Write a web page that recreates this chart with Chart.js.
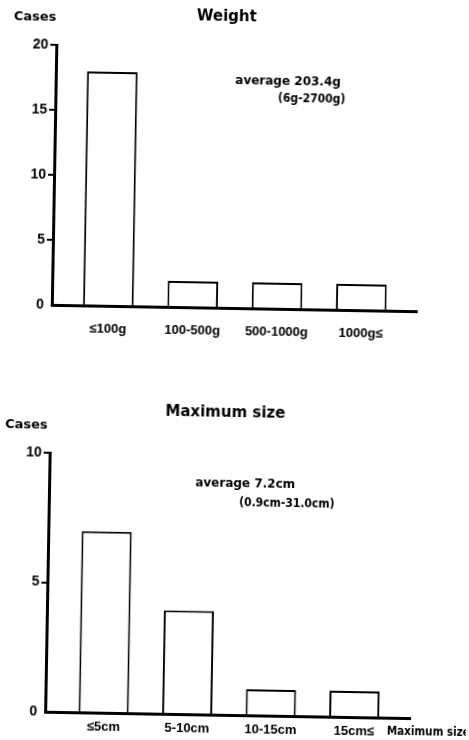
<!DOCTYPE html>
<html><head><meta charset="utf-8">
<script src="https://cdn.jsdelivr.net/npm/chart.js@4"></script>
<style>
html,body{margin:0;padding:0;background:#fff;overflow:hidden;width:469px;height:740px}
.wrap{position:absolute;left:0;width:469px;overflow:visible}
#w1{top:0;height:360px}
#w2{top:360px;height:380px}
canvas{display:block;transform:rotate(1deg);transform-origin:50% 50%}
</style></head><body>
<div class="wrap" id="w1"><canvas id="c1" width="469" height="360" style="width:469px;height:360px"></canvas></div>
<div class="wrap" id="w2"><canvas id="c2" width="469" height="380" style="width:469px;height:380px"></canvas></div>
<script>
// ---- data ----
const weightLabels = ['≤100g', '100-500g', '500-1000g', '1000g≤'];
const weightCases = [18, 2, 2, 2];
const weightTicks = [0, 5, 10, 15, 20];

const sizeLabels = ['≤5cm', '5-10cm', '10-15cm', '15cm≤'];
const sizeCases = [7, 4, 1, 1];
const sizeTicks = [0, 5, 10];

const weightTitle = 'Weight';
const sizeTitle = 'Maximum size';
const yTitle = 'Cases';
const sizeAxisTitle = 'Maximum size';
const weightAvg = 'average 203.4g';
const weightRange = '(6g-2700g)';
const sizeAvg = 'average 7.2cm';
const sizeRange = '(0.9cm-31.0cm)';

// ---- styling ----
const COND = "'DejaVu Sans Condensed', 'DejaVu Sans', sans-serif";
const SANS = "'DejaVu Sans', sans-serif";
const LIB = "'Liberation Sans', Arial, sans-serif";

const textPlugin = {
  id: 'texts',
  afterDraw(chart, args, opts) {
    const ctx = chart.ctx;
    const xs = chart.scales.x, ys = chart.scales.y;
    ctx.save();
    ctx.fillStyle = '#000';
    ctx.textBaseline = 'middle';
    for (const t of opts.items || []) {
      const x = t.vx !== undefined ? xs.getPixelForValue(t.vx) : t.px;
      const y = t.vy !== undefined ? ys.getPixelForValue(t.vy) : t.py;
      ctx.font = t.font;
      ctx.textAlign = t.align || 'left';
      ctx.fillText(t.text, x, y);
    }
    ctx.restore();
  }
};

function makeChart(id, labels, values, yTicks, cfg) {
  return new Chart(document.getElementById(id), {
    type: 'bar',
    data: {
      datasets: [{
        data: values.map((v, i) => ({ x: i + 1, y: v })),
        backgroundColor: '#fff',
        borderColor: '#000',
        borderWidth: 2,
        categoryPercentage: 1,
        barPercentage: 0.6
      }]
    },
    options: {
      responsive: false,
      animation: false,
      devicePixelRatio: 1,
      layout: { padding: cfg.padding },
      plugins: {
        legend: { display: false },
        tooltip: { enabled: false },
        texts: { items: cfg.texts }
      },
      scales: {
        x: {
          type: 'linear',
          offset: false,
          min: cfg.xMin, max: cfg.xMax,
          afterFit: s => { s.height = cfg.xHeight; },
          afterBuildTicks: s => { s.ticks = labels.map((_, i) => ({ value: i + 1 })); },
          grid: { display: false, drawTicks: false, offset: false },
          border: { display: true, color: '#000', width: 3 },
          ticks: {
            color: '#000', padding: cfg.xPad, autoSkip: false, maxRotation: 0, minRotation: 0,
            callback: v => labels[v - 1],
            font: { family: LIB, size: 13, weight: 'bold' }
          }
        },
        y: {
          min: yTicks[0], max: yTicks[yTicks.length - 1],
          afterFit: s => { s.width = cfg.yWidth; },
          afterBuildTicks: s => { s.ticks = yTicks.map(v => ({ value: v })); },
          grid: {
            drawOnChartArea: false, drawTicks: true, tickLength: 6, lineWidth: 2,
            color: c => (c.tick && c.tick.value === 0) ? 'rgba(0,0,0,0)' : '#000'
          },
          border: { display: true, color: '#000', width: 3 },
          ticks: {
            color: '#000', padding: 2,
            font: { family: LIB, size: 14, weight: 'bold' }
          }
        }
      }
    },
    plugins: [textPlugin]
  });
}

makeChart('c1', weightLabels, weightCases, weightTicks, {
  padding: { top: 48, right: 50, bottom: 12, left: 0 },
  xHeight: 40, yWidth: 54, xPad: 16,
  xMin: 0.33, xMax: 4.66,
  texts: [
    { text: weightTitle, px: 224, py: 17, align: 'center', font: "bold 15px " + SANS },
    { text: yTitle, px: 11, py: 21, align: 'left', font: "bold 13px " + SANS },
    { text: weightAvg, vx: 2.46, vy: 17.5, align: 'left', font: "bold 12px " + SANS },
    { text: weightRange, vx: 3.77, vy: 16.15, align: 'right', font: "bold 12px " + COND }
  ]
});

makeChart('c2', sizeLabels, sizeCases, sizeTicks, {
  padding: { top: 96, right: 56, bottom: 5, left: 0 },
  xHeight: 20, yWidth: 48, xPad: 7,
  xMin: 0.30, xMax: 4.67,
  texts: [
    { text: sizeTitle, px: 223, py: 53, align: 'center', font: "bold 15px " + SANS },
    { text: yTitle, px: 3, py: 69, align: 'left', font: "bold 13px " + SANS },
    { text: sizeAvg, vx: 2.05, vy: 8.94, align: 'left', font: "bold 12px " + SANS },
    { text: sizeRange, vx: 3.72, vy: 8.19, align: 'right', font: "bold 12px " + COND },
    { text: sizeAxisTitle, px: 390, py: 369, align: 'left', font: "bold 11.5px " + COND }
  ]
});
</script>
</body></html>
